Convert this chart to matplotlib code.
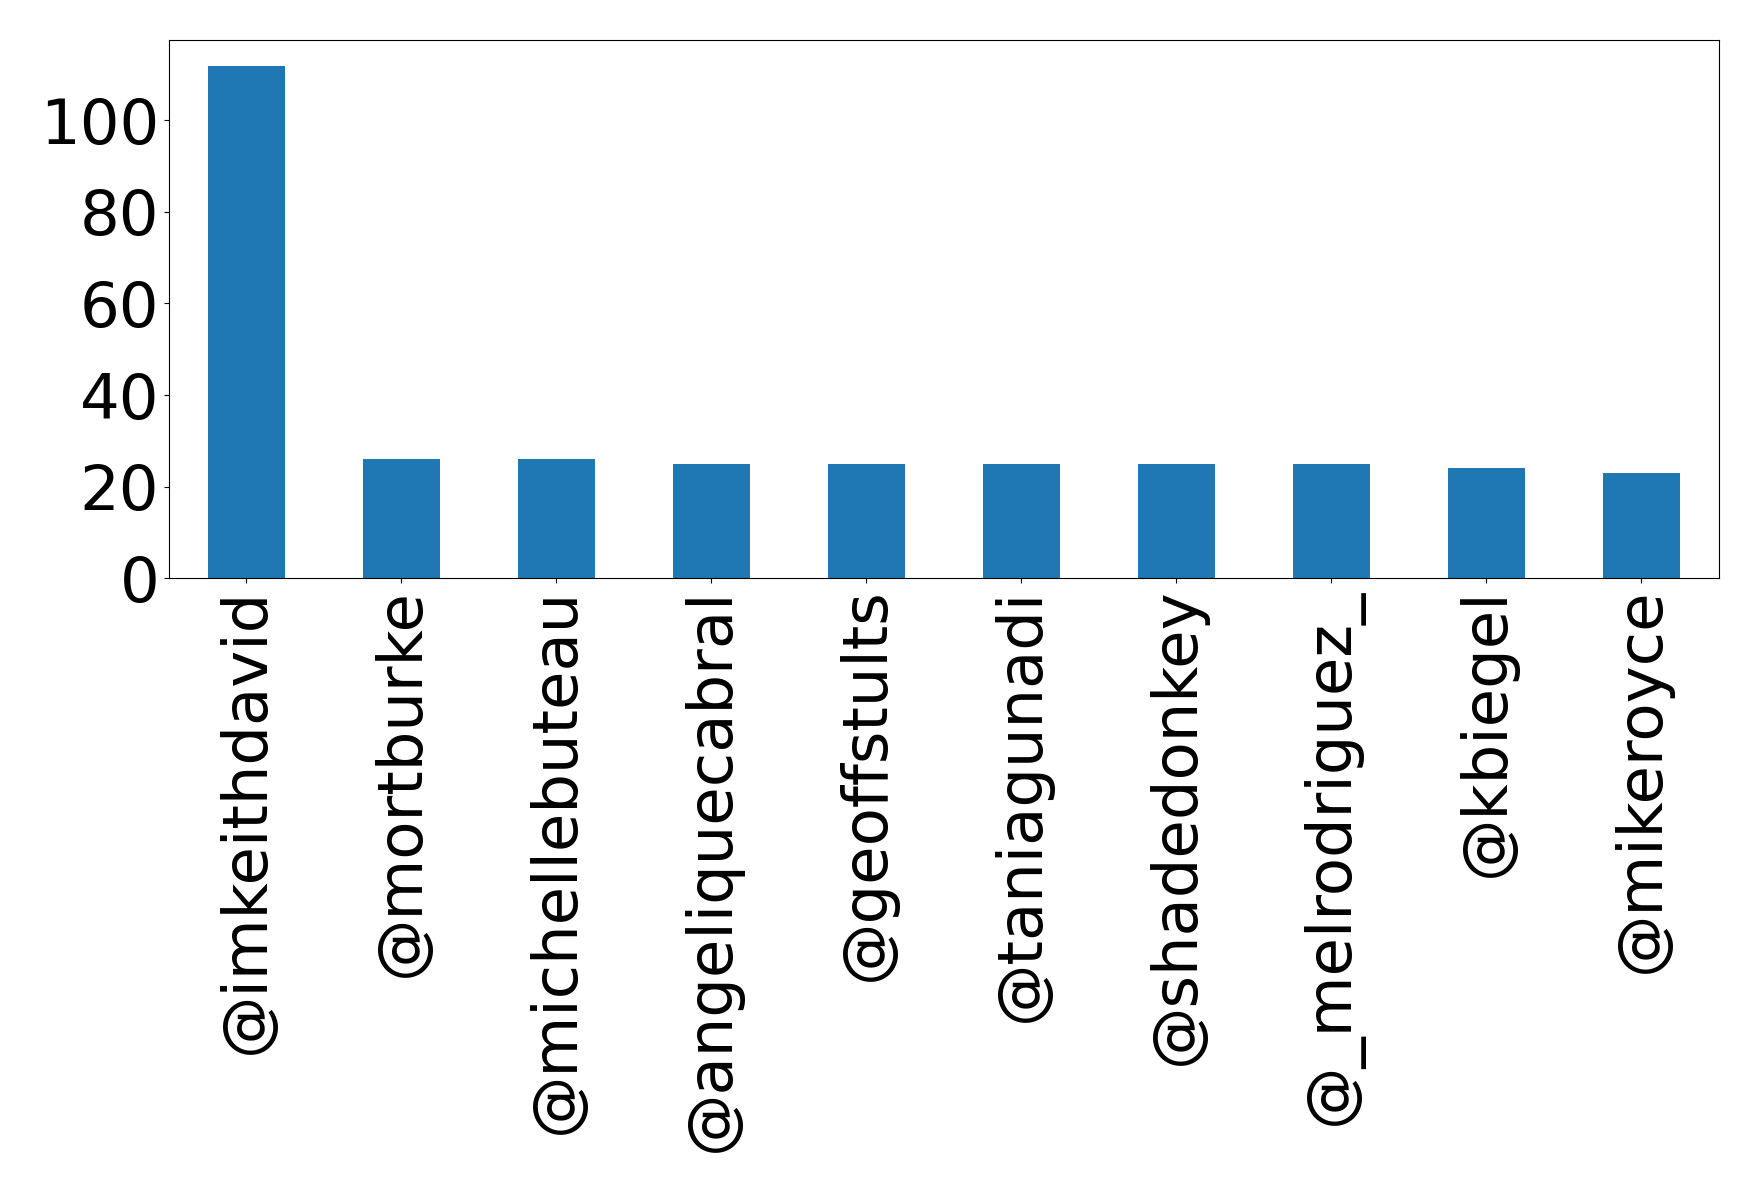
import matplotlib
matplotlib.use("Agg")
import matplotlib.pyplot as plt
from matplotlib.ticker import MultipleLocator
import numpy as np

users = ["@imkeithdavid", "@mortburke", "@michellebuteau", "@angeliquecabral",
         "@geoffstults", "@taniagunadi", "@shadedonkey", "@_melrodriguez_",
         "@kbiegel", "@mikeroyce"]
counts = [112, 26, 26, 25, 25, 25, 25, 25, 24, 23]

fig, ax = plt.subplots(figsize=(17.58, 11.93), dpi=100)
x = np.arange(len(users))
ax.bar(x, counts, width=0.5, color="#1f77b4")
ax.set_xlim(-0.5, len(users) - 0.5)
ax.set_xticks(x)
ax.set_xticklabels(users, rotation=90)
ax.yaxis.set_major_locator(MultipleLocator(20))
ax.tick_params(labelsize=45)
fig.subplots_adjust(left=0.0961, right=0.9778, top=0.9665, bottom=0.5155)
fig.savefig("out.png", dpi=100)
